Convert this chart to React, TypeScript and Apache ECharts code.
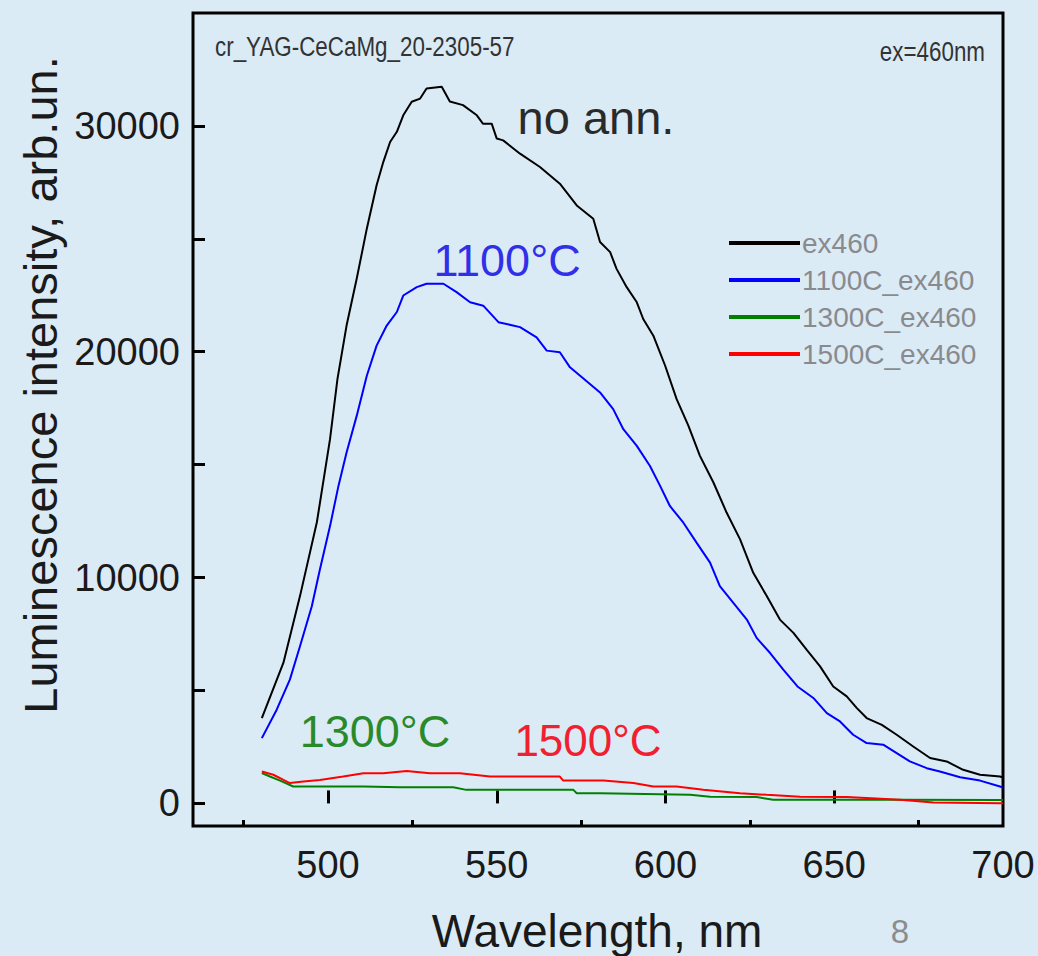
import React, { useEffect, useRef } from 'react';
import * as echarts from 'echarts';

const legendNames = ['ex460', '1100C_ex460', '1300C_ex460', '1500C_ex460'];

const ex460: number[][] = [
  [480.4, 3780], [486.8, 6230], [491.7, 9180], [496.7, 12450], [500.6, 16130], [502.8, 18790],
  [505.5, 21160], [508.5, 23230], [511.5, 25450], [514.4, 27370], [516.4, 28410], [518.4, 29290],
  [520.4, 29740], [522.3, 30470], [524.8, 31070], [527.3, 31210], [529.2, 31660], [533.7, 31730],
  [536.1, 31080], [540.0, 30920], [544.1, 30470], [545.9, 30100], [548.5, 30100], [550.0, 29440],
  [551.9, 29360], [556.9, 28770], [562.8, 28180], [568.7, 27440], [573.7, 26480], [578.6, 25890],
  [580.6, 24860], [583.6, 24410], [585.5, 23670], [588.5, 22860], [591.5, 22190], [593.4, 21450],
  [596.4, 20710], [599.9, 19380], [603.3, 17900], [606.8, 16720], [610.2, 15390], [614.2, 14210],
  [618.1, 12880], [622.1, 11690], [626.0, 10210], [630.0, 9180], [633.9, 8140], [637.9, 7550],
  [641.8, 6810], [645.8, 6070], [649.7, 5180], [653.7, 4740], [656.7, 4220], [659.6, 3780],
  [664.1, 3480], [668.5, 3040], [673.4, 2520], [678.4, 2010], [683.3, 1860], [688.2, 1490],
  [693.2, 1270], [699.1, 1190], [700, 1150],
];

const c1100: number[][] = [
  [480.4, 2890], [484.8, 4150], [488.7, 5480], [491.7, 6960], [495.2, 8730], [497.6, 10360],
  [500.6, 12280], [503.1, 14060], [505.5, 15540], [508.5, 17160], [511.5, 18940], [514.4, 20270],
  [517.4, 21160], [520.4, 21760], [522.3, 22490], [526.3, 22860], [529.2, 23010], [534.2, 23010],
  [538.1, 22640], [542.1, 22190], [546.0, 22040], [550.5, 21310], [556.9, 21090], [561.8, 20640],
  [564.8, 20050], [568.7, 19980], [571.7, 19310], [574.7, 18940], [580.6, 18200], [584.5, 17460],
  [587.5, 16570], [591.5, 15830], [595.4, 14940], [598.4, 14060], [601.3, 13170], [605.3, 12430],
  [609.2, 11550], [613.2, 10660], [616.1, 9620], [620.1, 8880], [624.1, 8140], [627.0, 7330],
  [631.0, 6660], [634.9, 5920], [639.1, 5180], [643.8, 4670], [647.8, 4000], [651.7, 3630],
  [655.6, 3040], [659.6, 2670], [664.5, 2600], [668.5, 2230], [672.4, 1860], [677.4, 1560],
  [681.3, 1410], [687.3, 1160], [693.2, 1010], [699.1, 750], [700, 700],
];

const c1300: number[][] = [
  [480.4, 1340], [482.8, 1190], [485.8, 1010], [489.7, 750], [510.5, 750], [521.3, 720],
  [537.1, 720], [541.0, 600], [572.7, 600], [573.7, 450], [580.6, 450], [607.3, 380],
  [613.2, 300], [627.0, 280], [631.9, 160], [669.5, 160], [699.1, 150], [700, 150],
];

const c1500: number[][] = [
  [480.4, 1410], [483.8, 1270], [486.8, 1040], [488.7, 900], [492.7, 970], [497.6, 1040],
  [504.5, 1190], [510.5, 1340], [516.4, 1340], [523.3, 1440], [530.2, 1340], [539.1, 1340],
  [548.0, 1190], [568.7, 1190], [569.7, 1010], [581.6, 1010], [590.5, 900], [596.4, 750],
  [603.3, 750], [611.2, 600], [622.1, 450], [630.0, 380], [639.9, 300], [653.7, 280],
  [669.5, 160], [679.4, 40], [699.1, 10], [700, 10],
];

const seriesColors = ['#000000', '#0000ff', '#008000', '#ff0000'];
const yTickValues = [0, 5000, 10000, 15000, 20000, 25000, 30000];
const yLabelValues = [0, 10000, 20000, 30000];
const xMajorTicks = [500, 550, 600, 650];
const xMinorTicks = [475, 525, 575, 625, 675];
const xLabelValues = [500, 550, 600, 650, 700];

const FONT = 'Liberation Sans, Arial, sans-serif';

export default function App() {
  const ref = useRef<HTMLDivElement>(null);
  useEffect(() => {
    const chart = echarts.init(ref.current!, null, { renderer: 'svg' });
    const dataSets = [ex460, c1100, c1300, c1500];
    chart.setOption({
      animation: false,
      backgroundColor: '#daebf6',
      grid: {
        left: 193, right: 35, top: 13, bottom: 130,
        show: true, borderColor: '#000', borderWidth: 3, backgroundColor: 'transparent',
      },
      xAxis: [
        {
          type: 'value', min: 460, max: 700, position: 'bottom',
          axisLine: { show: false },
          splitLine: { show: false },
          axisTick: { inside: true, length: 13, lineStyle: { width: 3, color: '#000' }, customValues: xMajorTicks },
          axisLabel: { customValues: xLabelValues, fontSize: 38, margin: 20, color: '#1a1a1a', fontFamily: FONT, formatter: (v: number) => String(v) },
        },
        {
          type: 'value', min: 460, max: 700, position: 'bottom',
          axisLine: { show: false },
          splitLine: { show: false },
          axisTick: { inside: true, length: 6, lineStyle: { width: 3, color: '#000' }, customValues: xMinorTicks },
          axisLabel: { show: false },
        },
      ],
      yAxis: {
        type: 'value', min: -1000, max: 35000,
        axisLine: { show: false },
        splitLine: { show: false },
        axisTick: { inside: true, length: 12, lineStyle: { width: 3, color: '#000' }, customValues: yTickValues },
        axisLabel: { customValues: yLabelValues, fontSize: 38, margin: 13, color: '#1a1a1a', fontFamily: FONT, formatter: (v: number) => String(v) },
      },
      legend: {
        data: legendNames.map((name) => ({ name, icon: 'rect' })),
        orient: 'vertical',
        left: 729, top: 229, padding: 0,
        itemWidth: 71, itemHeight: 4, itemGap: 9,
        textStyle: { fontSize: 28, color: '#8a8a8e', fontFamily: FONT, padding: [0, 0, 0, -3] },
      },
      series: legendNames.map((name, i) => ({
        name,
        type: 'line',
        data: dataSets[i],
        showSymbol: false,
        symbol: 'none',
        lineStyle: { width: 2, color: seriesColors[i] },
        itemStyle: { color: seriesColors[i] },
        z: 2 + i,
      })),
      graphic: [
        { type: 'text', x: 215, y: 46, scaleX: 0.8, style: { text: 'cr_YAG-CeCaMg_20-2305-57', fontSize: 28, fontFamily: FONT, fill: '#333', textAlign: 'left', textVerticalAlign: 'middle' } },
        { type: 'text', x: 985, y: 51, scaleX: 0.8, style: { text: 'ex=460nm', fontSize: 28, fontFamily: FONT, fill: '#333', textAlign: 'right', textVerticalAlign: 'middle' } },
        { type: 'text', x: 596, y: 117, style: { text: 'no ann.', fontSize: 47, fontFamily: FONT, fill: '#2a2a2a', textAlign: 'center', textVerticalAlign: 'middle' } },
        { type: 'text', x: 507, y: 260, style: { text: '1100°C', fontSize: 45, fontFamily: FONT, fill: '#3030e8', textAlign: 'center', textVerticalAlign: 'middle' } },
        { type: 'text', x: 375, y: 731, style: { text: '1300°C', fontSize: 45, fontFamily: FONT, fill: '#2a8a2a', textAlign: 'center', textVerticalAlign: 'middle' } },
        { type: 'text', x: 588, y: 740, style: { text: '1500°C', fontSize: 44, fontFamily: FONT, fill: '#f02030', textAlign: 'center', textVerticalAlign: 'middle' } },
        { type: 'text', x: 40, y: 385, rotation: Math.PI / 2, style: { text: 'Luminescence intensity, arb.un.', fontSize: 47, fontFamily: FONT, fill: '#1a1a1a', textAlign: 'center', textVerticalAlign: 'middle' } },
        { type: 'text', x: 597, y: 931, style: { text: 'Wavelength, nm', fontSize: 46, fontFamily: FONT, fill: '#1a1a1a', textAlign: 'center', textVerticalAlign: 'middle' } },
        { type: 'text', x: 900, y: 931, style: { text: '8', fontSize: 33, fontFamily: FONT, fill: '#8c8c8c', textAlign: 'center', textVerticalAlign: 'middle' } },
      ],
    });
    return () => chart.dispose();
  }, []);
  return <div ref={ref} style={{ position: 'absolute', left: 0, top: 0, width: 1038, height: 956 }} />;
}
